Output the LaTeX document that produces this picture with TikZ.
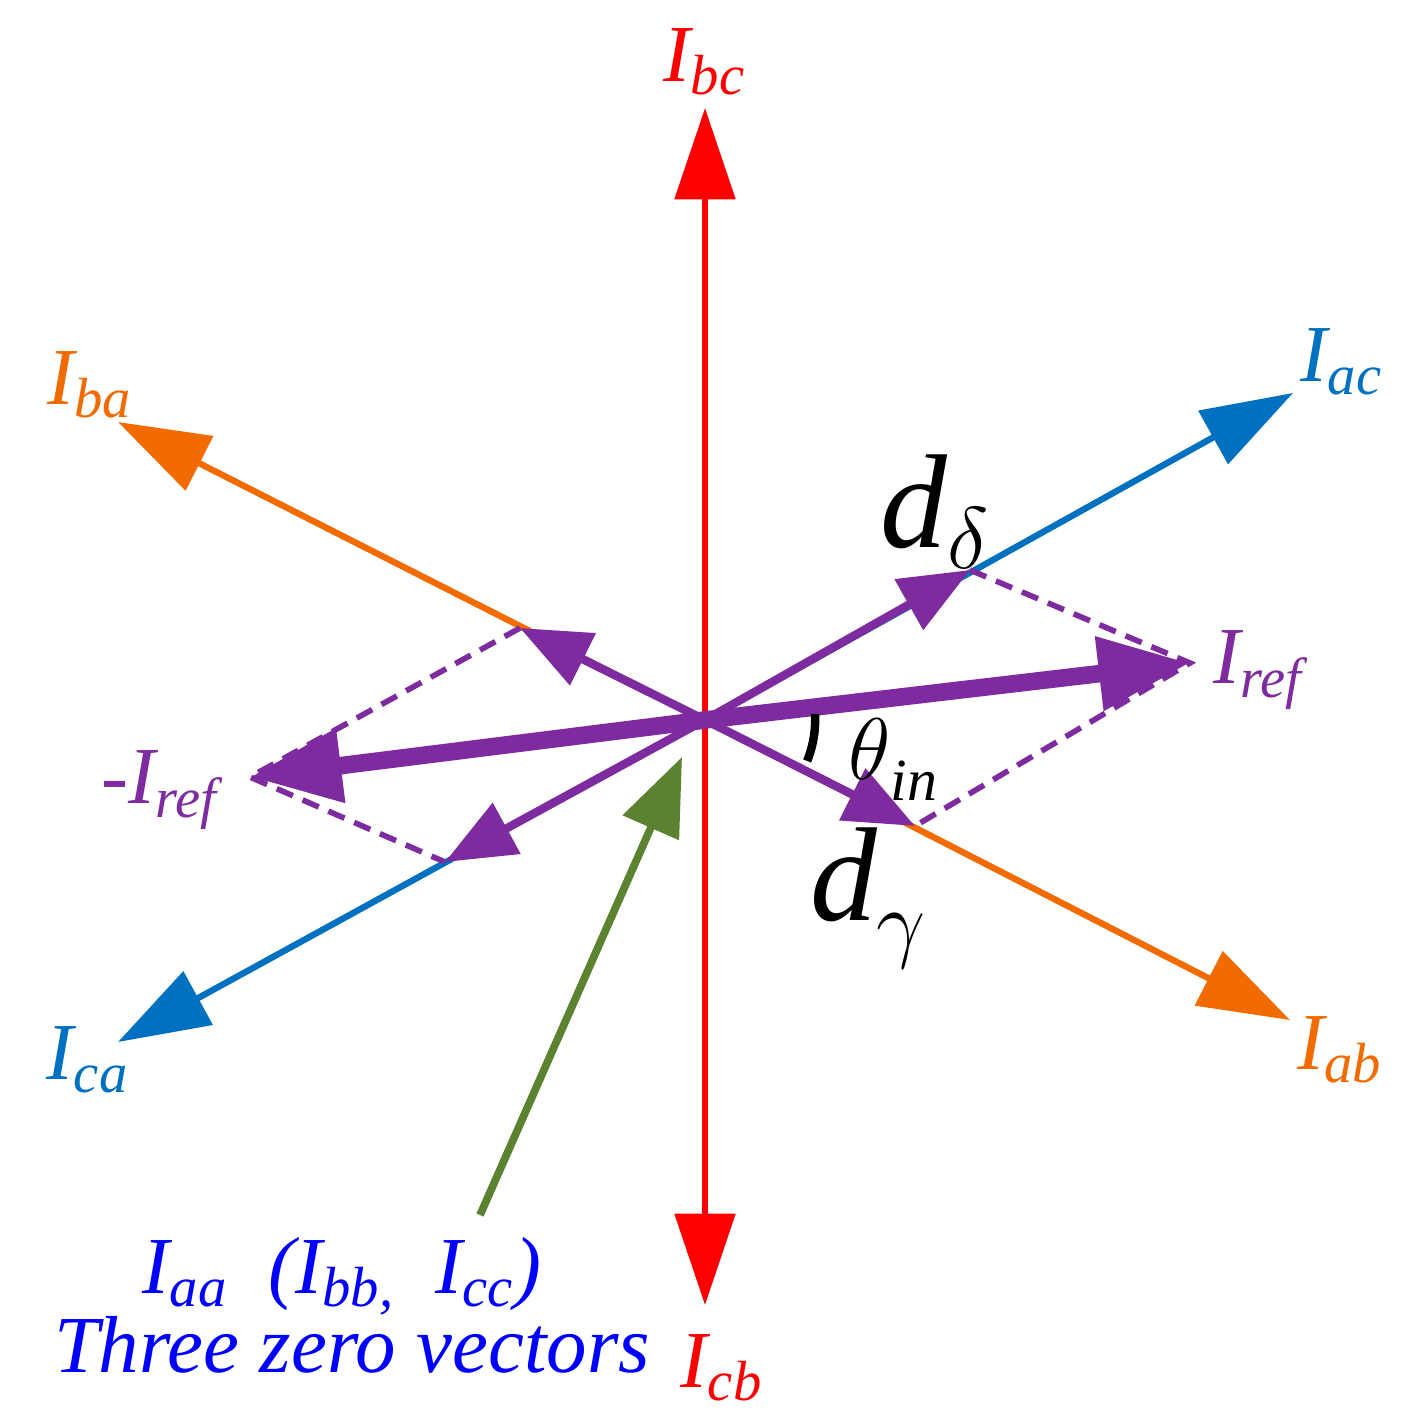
\documentclass[tikz,border=0pt]{standalone}
\usepackage{fontspec}
\setmainfont{Liberation Serif}
\usetikzlibrary{arrows.meta}
\definecolor{cred}{HTML}{FF0000}
\definecolor{cblue}{HTML}{0070C0}
\definecolor{corange}{HTML}{F26B00}
\definecolor{cpurple}{HTML}{7F2BA0}
\definecolor{cgreen}{HTML}{5B8230}
\definecolor{ctext}{HTML}{0000FF}
\begin{document}
\begin{tikzpicture}[x=0.01cm,y=-0.01cm,
  axis/.style={line width=1.8pt,-{Triangle[length=26pt,width=17pt]}},
  small/.style={line width=2.4pt,cpurple,-{Triangle[length=20pt,width=16pt]}},
  big/.style={line width=5pt,cpurple,-{Triangle[length=26pt,width=20pt]}},
  dsh/.style={line width=1.6pt,cpurple,dash pattern=on 5pt off 3pt},
  lab/.style={font=\fontsize{23}{26}\selectfont\itshape}]
\useasboundingbox (0,0) rectangle (1410,1421);
\coordinate (O) at (705,720);
\coordinate (bc) at (705,108); \coordinate (cb) at (705,1305);
\coordinate (ac) at (1293,393); \coordinate (ca) at (118,1042);
\coordinate (ba) at (118,422); \coordinate (ab) at (1290,1020);
\coordinate (ir) at (1190,663); \coordinate (mir) at (250,777);
\coordinate (dd) at (970,570); \coordinate (dg) at (915,826);
\coordinate (pu) at (520,628); \coordinate (pl) at (445,862);
\coordinate (gs) at (480,1215); \coordinate (gt) at (682,757);
\draw[axis,corange] (O) -- (ba);
\draw[axis,corange] (O) -- (ab);
\draw[axis,cblue] (O) -- (ac);
\draw[axis,cblue] (O) -- (ca);
\draw[axis,cred] (O) -- (bc);
\draw[axis,cred] (O) -- (cb);
\draw[dsh] (dd) -- (ir) -- (dg);
\draw[dsh] (pu) -- (mir) -- (pl);
\draw[small] (O) -- (dd);
\draw[small] (O) -- (dg);
\draw[small] (O) -- (pu);
\draw[small] (O) -- (pl);
\draw[big] (O) -- (ir);
\draw[big] (O) -- (mir);
\draw[line width=2.2pt,cgreen,-{Triangle[length=22pt,width=17pt]}] (gs) -- (gt);
\draw[line width=2.4pt] (815,714) arc[start angle=-3,end angle=22,radius=110];
\node[lab,cred] (Lbc) at (705,62) {I\textsubscript{bc}};
\node[lab,cred] (Lcb) at (722,1368) {I\textsubscript{cb}};
\node[lab,cblue] (Lac) at (1342,362) {I\textsubscript{ac}};
\node[lab,cblue] (Lca) at (88,1060) {I\textsubscript{ca}};
\node[lab,corange] (Lba) at (90,385) {I\textsubscript{ba}};
\node[lab,corange] (Lab) at (1340,1050) {I\textsubscript{ab}};
\node[lab,cpurple] (Lir) at (1258,670) {I\textsubscript{ref}};
\node[lab,cpurple] (Lmir) at (160,790) {-I\textsubscript{ref}};
\node[font=\fontsize{38}{40}\selectfont\itshape] (Ldd) at (935,512) {d\raisebox{-6pt}{\fontsize{26}{28}\selectfont$\delta$}};
\node[font=\fontsize{38}{40}\selectfont\itshape] (Ldg) at (868,898) {d\raisebox{-9pt}{\fontsize{26}{28}\selectfont$\gamma$}};
\node[font=\fontsize{26}{28}\selectfont\itshape] (Lth) at (893,760) {$\theta$\raisebox{-6pt}{\fontsize{17}{19}\selectfont in}};
\node[lab,ctext] (Lz1) at (342,1276) {I\textsubscript{aa}\ \ (I\textsubscript{bb,}\ \ I\textsubscript{cc})};
\node[lab,ctext] (Lz2) at (352,1345) {Three zero vectors};
\end{tikzpicture}
\end{document}
